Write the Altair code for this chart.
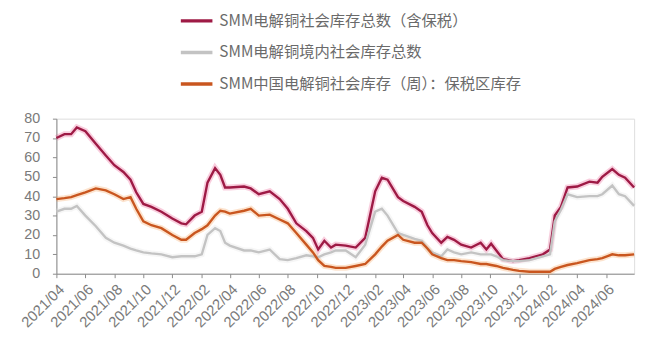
import altair as alt
import pandas as pd

dates = [
    "2021-04-01", "2021-04-18", "2021-05-02", "2021-05-14", "2021-06-01", "2021-06-23",
    "2021-07-14", "2021-08-01", "2021-08-20", "2021-09-04", "2021-09-16", "2021-10-01",
    "2021-10-18", "2021-11-08", "2021-12-01", "2021-12-20", "2021-12-30", "2022-01-17",
    "2022-02-01", "2022-02-13", "2022-03-01", "2022-03-12", "2022-03-22", "2022-04-01",
    "2022-05-01", "2022-05-15", "2022-06-01", "2022-06-24", "2022-07-15", "2022-08-01",
    "2022-08-19", "2022-09-09", "2022-09-23", "2022-10-04", "2022-10-17", "2022-10-31",
    "2022-11-10", "2022-12-01", "2022-12-22", "2023-01-11", "2023-02-01", "2023-02-15",
    "2023-02-27", "2023-03-21", "2023-04-01", "2023-04-25", "2023-05-10", "2023-05-22",
    "2023-06-01", "2023-06-20", "2023-07-03", "2023-07-17", "2023-08-01", "2023-08-22",
    "2023-09-11", "2023-09-23", "2023-10-03", "2023-10-14", "2023-10-28", "2023-11-18",
    "2023-12-01", "2023-12-23", "2024-01-20", "2024-02-04", "2024-02-14", "2024-02-27",
    "2024-03-12", "2024-04-01", "2024-04-27", "2024-05-14", "2024-05-24", "2024-06-14",
    "2024-06-28", "2024-07-11", "2024-07-30",
]

total_incl_bonded = [
    70, 72, 72, 75.5, 73.5, 67,
    61, 56, 52.5, 48.5, 42, 36,
    34.5, 32, 28.5, 26, 25.5, 30,
    32, 47, 54.5, 51, 44.5, 44.5,
    45, 44, 41, 42.5, 38.5, 33.5,
    26, 22, 18.5, 12.5, 17, 13.5,
    15, 14.5, 13.5, 18.5, 42.5, 49.5,
    48.5, 39.5, 37.5, 34.5, 32, 25,
    21, 16, 19, 17.5, 15, 13.5,
    16, 12.5, 15.5, 12, 7.5, 6.5,
    7, 8, 10, 12.5, 30, 34.5,
    44.5, 45, 47.5, 47, 50, 54,
    51, 49.5, 44.5,
]

domestic_total = [
    32, 33.5, 33.5, 35, 30, 24.5,
    18.5, 16, 14.5, 13, 12, 11,
    10.5, 10, 8.5, 9, 9, 9,
    10, 20, 23.5, 22, 16, 14.5,
    12, 12, 11, 12.5, 7.5, 7,
    8, 9.5, 9, 8.5, 10, 11,
    12, 12, 8.5, 15, 32, 33.5,
    30, 21, 20, 18, 17, 13,
    11, 9, 12.5, 11, 10, 11,
    10, 10, 10, 9, 7, 6.5,
    6.5, 7, 9, 10, 27, 33,
    41, 39.5, 40, 40, 41, 45.5,
    41, 40, 35,
]

bonded_zone = [
    38.5, 39, 39.5, 40.5, 42, 44,
    43, 41, 38.5, 39.5, 33.5, 27,
    25, 23.5, 20, 17.5, 17.5, 21,
    23, 25, 30, 32.5, 32, 31,
    32.5, 33.5, 30, 30.5, 28, 26,
    21, 15, 11, 7, 4, 3.5,
    3, 3, 4, 5, 10, 14,
    17, 20, 17.5, 16, 16, 13,
    10, 8, 7, 7, 6.5, 6,
    5, 5, 4.5, 4, 3, 2,
    1.5, 1, 1, 1, 2.5, 3.5,
    4.5, 5.5, 7, 7.5, 8, 10,
    9.5, 9.5, 10,
]

series_names = [
    "SMM电解铜社会库存总数（含保税）",
    "SMM电解铜境内社会库存总数",
    "SMM中国电解铜社会库存（周）：保税区库存",
]
series_colors = ["#9e1a45", "#c3c3c3", "#c9561f"]
halo_colors = ["#e8508a", "#dedede", "#f59a50"]

tick_months = [(2021, 4), (2021, 6), (2021, 8), (2021, 10), (2021, 12),
               (2022, 2), (2022, 4), (2022, 6), (2022, 8), (2022, 10), (2022, 12),
               (2023, 2), (2023, 4), (2023, 6), (2023, 8), (2023, 10), (2023, 12),
               (2024, 2), (2024, 4), (2024, 6)]
y_ticks = [0, 10, 20, 30, 40, 50, 60, 70, 80]

rows = []
for name, vals in zip(series_names, [total_incl_bonded, domestic_total, bonded_zone]):
    for d, v in zip(dates, vals):
        rows.append({"date": d, "value": v, "series": name})
df = pd.DataFrame(rows)

x_enc = alt.X(
    "date:T",
    scale=alt.Scale(type="utc", domain=[alt.DateTime(year=2021, month=4, date=1, utc=True),
                                        alt.DateTime(year=2024, month=7, date=30, utc=True)]),
    axis=alt.Axis(
        values=[alt.DateTime(year=y, month=m, date=1, utc=True) for y, m in tick_months],
        format="%Y/%m", labelAngle=-45, grid=False, labelOverlap=False,
        tickSize=4, labelPadding=4, domainColor="#8a8a8a", tickColor="#8a8a8a",
        labelColor="#7a7a7a", labelFontSize=15, labelFont="Liberation Sans", title=None,
    ),
)
y_enc = alt.Y(
    "value:Q",
    scale=alt.Scale(domain=[0, 80], nice=False),
    axis=alt.Axis(
        values=y_ticks, grid=False, tickSize=4, labelPadding=13,
        domainColor="#8a8a8a", tickColor="#8a8a8a", labelColor="#7a7a7a",
        labelFontSize=14.5, labelFont="Liberation Sans", title=None,
    ),
)

halo = alt.Chart(df).mark_line(strokeWidth=6, opacity=0.28).encode(
    x=x_enc, y=y_enc,
    color=alt.Color("series:N", scale=alt.Scale(domain=series_names, range=halo_colors), legend=None),
    detail="series:N",
)

lines = alt.Chart(df).mark_line(strokeWidth=2.4).encode(
    x=x_enc, y=y_enc,
    color=alt.Color(
        "series:N",
        scale=alt.Scale(domain=series_names, range=series_colors),
        legend=alt.Legend(
            title=None, orient="none", legendX=124, legendY=-117, direction="vertical",
            symbolType="stroke", symbolSize=1024, symbolStrokeWidth=3.5,
            labelFont="Noto Sans CJK SC", labelFontSize=15.5, labelColor="#6a6a6a",
            labelOffset=5, rowPadding=5, labelLimit=500,
        ),
    ),
)

chart = alt.layer(halo, lines).resolve_scale(color="independent").properties(
    width=585, height=157,
    autosize=alt.AutoSizeParams(type="none"),
    padding={"left": 49, "top": 110, "right": 10, "bottom": 60},
).configure_view(stroke=None).configure(background="white")

chart.save("out.html", embed_options={"renderer": "svg", "actions": False})
